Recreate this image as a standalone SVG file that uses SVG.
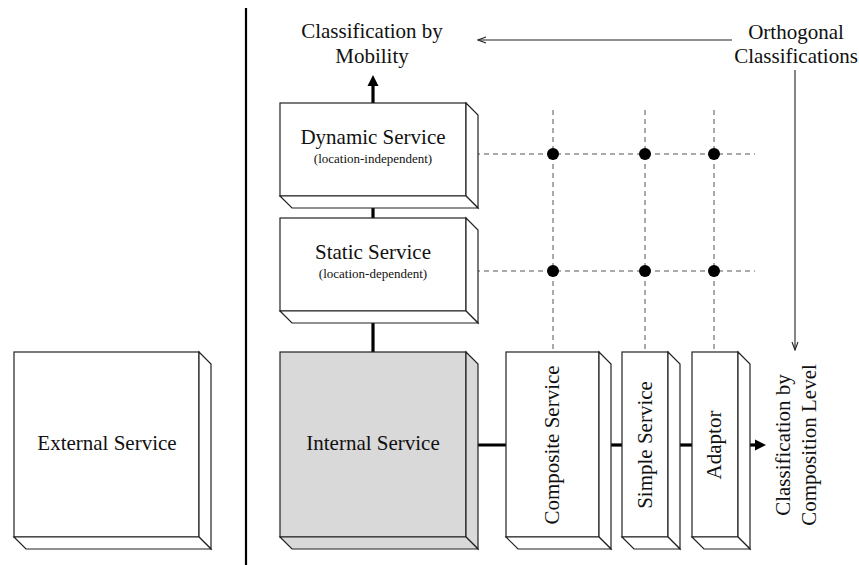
<svg xmlns="http://www.w3.org/2000/svg" width="859" height="565" viewBox="0 0 859 565">
<style>
text{font-family:"Liberation Serif","Times New Roman",serif;fill:#111}
.t{font-size:21px;text-anchor:middle}
.s{font-size:13px;text-anchor:middle}
.face{fill:#fff;stroke:#222;stroke-width:1.2;stroke-linejoin:miter}
.gray .face{fill:#d9d9d9}
.thick{stroke:#000;stroke-width:3.2;fill:none}
.dash{stroke:#555;stroke-width:1;stroke-dasharray:5 4;fill:none}
.thin{stroke:#222;stroke-width:1.1;fill:none}
.dot{fill:#000}
</style>
<defs>
<marker id="open" markerWidth="10" markerHeight="10" refX="9" refY="4" orient="auto" markerUnits="userSpaceOnUse">
<path d="M1,1 L9,4 L1,7" fill="none" stroke="#222" stroke-width="1.1"/>
</marker>
</defs>
<line x1="246" y1="8" x2="246" y2="565" stroke="#000" stroke-width="2.2"/>
<g id="connectors">
<line class="dash" x1="466" y1="154" x2="755" y2="154"/>
<line class="dash" x1="466" y1="271" x2="755" y2="271"/>
<line class="dash" x1="553" y1="110" x2="553" y2="352"/>
<line class="dash" x1="645" y1="110" x2="645" y2="352"/>
<line class="dash" x1="714" y1="110" x2="714" y2="352"/>
<circle class="dot" cx="553" cy="154" r="6"/><circle class="dot" cx="645" cy="154" r="6"/><circle class="dot" cx="714" cy="154" r="6"/>
<circle class="dot" cx="553" cy="271" r="6"/><circle class="dot" cx="645" cy="271" r="6"/><circle class="dot" cx="714" cy="271" r="6"/>
<line class="thick" x1="373" y1="196" x2="373" y2="218"/>
<line class="thick" x1="373" y1="311" x2="373" y2="352"/>
<line class="thick" x1="373" y1="103" x2="373" y2="84"/>
<polygon points="373,75 367.5,86 378.5,86" fill="#000"/>
<line class="thick" x1="466" y1="445" x2="506" y2="445"/>
<line class="thick" x1="599" y1="445" x2="622" y2="445"/>
<line class="thick" x1="668" y1="445" x2="692" y2="445"/>
<line class="thick" x1="738" y1="445" x2="757" y2="445"/>
<polygon points="766,445 755,439.5 755,450.5" fill="#000"/>
<line class="thin" x1="732" y1="40" x2="478" y2="40" marker-end="url(#open)"/>
<line class="thin" x1="795" y1="70" x2="795" y2="350" marker-end="url(#open)"/>
</g>
<g id="dynamic">
<rect class="face" x="280" y="103" width="186" height="93"/>
<polygon class="face" points="466,103 478,115 478,208 466,196"/>
<polygon class="face" points="280,196 466,196 478,208 292,208"/>
<text class="t" x="373" y="144">Dynamic Service</text>
<text class="s" x="373" y="163">(location-independent)</text>
</g>
<g id="static">
<rect class="face" x="280" y="218" width="186" height="93"/>
<polygon class="face" points="466,218 478,230 478,323 466,311"/>
<polygon class="face" points="280,311 466,311 478,323 292,323"/>
<text class="t" x="373" y="259">Static Service</text>
<text class="s" x="373" y="278">(location-dependent)</text>
</g>
<g id="internal" class="gray">
<rect class="face" x="280" y="352" width="186" height="185"/>
<polygon class="face" points="466,352 478,364 478,549 466,537"/>
<polygon class="face" points="280,537 466,537 478,549 292,549"/>
<text class="t" x="373" y="450">Internal Service</text>
</g>
<g id="external">
<rect class="face" x="14" y="352" width="185" height="185"/>
<polygon class="face" points="199,352 211,364 211,549 199,537"/>
<polygon class="face" points="14,537 199,537 211,549 26,549"/>
<text class="t" x="107" y="450">External Service</text>
</g>
<g id="composite">
<rect class="face" x="506" y="352" width="93" height="185"/>
<polygon class="face" points="599,352 611,364 611,549 599,537"/>
<polygon class="face" points="506,537 599,537 611,549 518,549"/>
<text class="t" transform="translate(559,445) rotate(-90)">Composite Service</text>
</g>
<g id="simple">
<rect class="face" x="622" y="352" width="46" height="185"/>
<polygon class="face" points="668,352 680,364 680,549 668,537"/>
<polygon class="face" points="622,537 668,537 680,549 634,549"/>
<text class="t" transform="translate(652,445) rotate(-90)">Simple Service</text>
</g>
<g id="adaptor">
<rect class="face" x="692" y="352" width="46" height="185"/>
<polygon class="face" points="738,352 750,364 750,549 738,537"/>
<polygon class="face" points="692,537 738,537 750,549 704,549"/>
<text class="t" transform="translate(721,445) rotate(-90)">Adaptor</text>
</g>
<g id="mobility-label">
<text class="t" x="372" y="38">Classification by</text>
<text class="t" x="372" y="63">Mobility</text>
</g>
<g id="orthogonal-label">
<text class="t" x="796" y="39">Orthogonal</text>
<text class="t" x="796" y="63">Classifications</text>
</g>
<g id="composition-label">
<text class="t" transform="translate(790,445) rotate(-90)">Classification by</text>
<text class="t" transform="translate(816,445) rotate(-90)">Composition Level</text>
</g>
</svg>
